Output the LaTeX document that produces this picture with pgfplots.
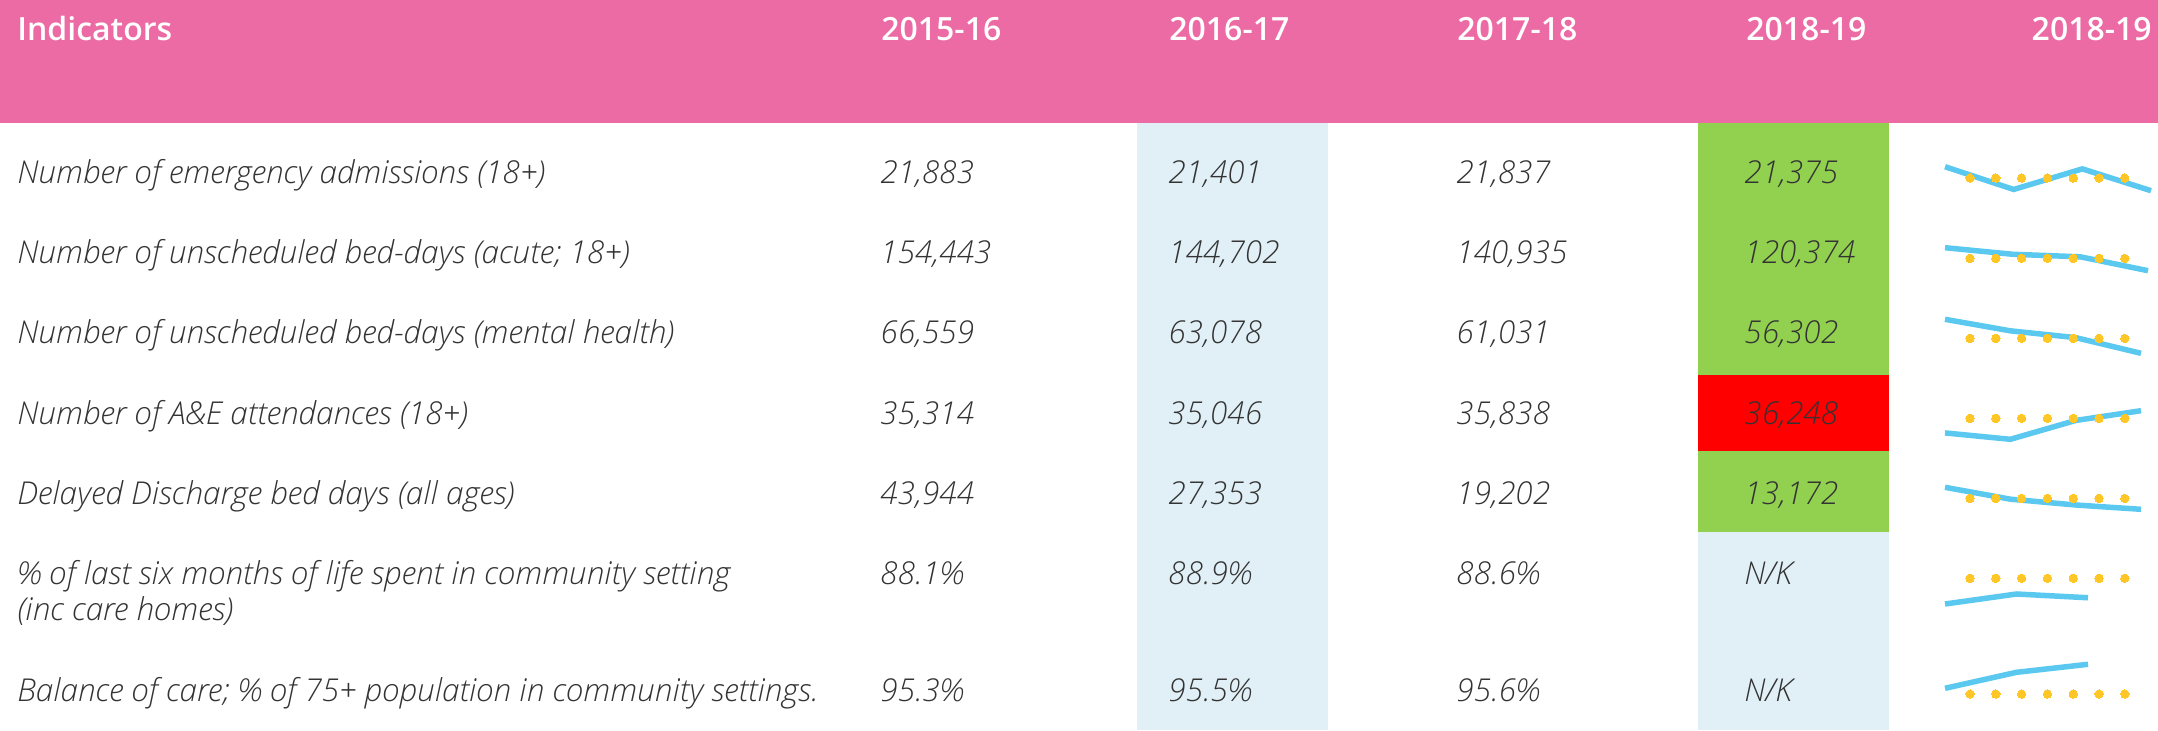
\documentclass[border=0pt]{standalone}
\usepackage{fontspec}
\setmainfont{Open Sans}[ItalicFont={Open Sans Light Italic},BoldFont={Open Sans Semibold}]
\usepackage{pgfplots}
\pgfplotsset{compat=1.18}
\definecolor{pinkhdr}{HTML}{EC6BA4}
\definecolor{lblue}{HTML}{E1F0F6}
\definecolor{cgreen}{HTML}{92D050}
\definecolor{cred}{HTML}{FF0000}
\definecolor{txt}{HTML}{333333}
\definecolor{sline}{HTML}{5BC8EF}
\definecolor{sdot}{HTML}{FFC628}
\newcommand\bodyfont{\fontsize{15.75}{18}\selectfont\itshape}
\newcommand\hdrfont{\fontsize{16}{19}\selectfont\bfseries}
\pgfplotsset{spark/.style={scale only axis, hide axis, clip=false, anchor=north west, xmin=0, enlargelimits=false},
  sl/.style={sline, line width=2.75pt},
  sd/.style={only marks, color=sdot, mark=*, mark size=2.1pt, mark options={solid, draw=sdot, fill=sdot, line width=0pt}}}
\begin{document}
\begin{tikzpicture}
\begin{axis}[name=main, scale only axis, width=1079pt, height=365pt, xmin=0, xmax=2158, ymin=0, ymax=730,
  y dir=reverse, hide axis, clip=false, enlargelimits=false]
\path (axis cs:0,0) rectangle (axis cs:2158,730);
\fill[pinkhdr] (axis cs:0,0) rectangle (axis cs:2158,123);
\fill[lblue] (axis cs:1137,123) rectangle (axis cs:1328,730);
\fill[cgreen] (axis cs:1698,123) rectangle (axis cs:1889,375);
\fill[cred] (axis cs:1698,375) rectangle (axis cs:1889,451);
\fill[cgreen] (axis cs:1698,451) rectangle (axis cs:1889,531.5);
\fill[lblue] (axis cs:1698,531.5) rectangle (axis cs:1889,730);
% header
\node[anchor=base west, inner sep=0pt, font=\hdrfont, text=white] at (axis cs:17,40) {Indicators};
\node[anchor=base west, inner sep=0pt, font=\hdrfont, text=white] at (axis cs:881,40) {2015-16};
\node[anchor=base west, inner sep=0pt, font=\hdrfont, text=white] at (axis cs:1169,40) {2016-17};
\node[anchor=base west, inner sep=0pt, font=\hdrfont, text=white] at (axis cs:1457,40) {2017-18};
\node[anchor=base west, inner sep=0pt, font=\hdrfont, text=white] at (axis cs:1746,40) {2018-19};
\node[anchor=base east, inner sep=0pt, font=\hdrfont, text=white] at (axis cs:2152,40) {2018-19};
% rows
\begin{scope}[every node/.style={anchor=base west, inner sep=0pt, font=\bodyfont, text=txt}]
\node at (axis cs:17,183.5) {Number of emergency admissions (18+)};
\node at (axis cs:880,183.5) {21,883};
\node at (axis cs:1168,183.5) {21,401};
\node at (axis cs:1456,183.5) {21,837};
\node at (axis cs:1744,183.5) {21,375};
\node at (axis cs:17,263.5) {Number of unscheduled bed-days (acute; 18+)};
\node at (axis cs:880,263.5) {154,443};
\node at (axis cs:1168,263.5) {144,702};
\node at (axis cs:1456,263.5) {140,935};
\node at (axis cs:1744,263.5) {120,374};
\node at (axis cs:17,343.5) {Number of unscheduled bed-days (mental health)};
\node at (axis cs:880,343.5) {66,559};
\node at (axis cs:1168,343.5) {63,078};
\node at (axis cs:1456,343.5) {61,031};
\node at (axis cs:1744,343.5) {56,302};
\node at (axis cs:17,424) {Number of A\&E attendances (18+)};
\node at (axis cs:880,424) {35,314};
\node at (axis cs:1168,424) {35,046};
\node at (axis cs:1456,424) {35,838};
\node at (axis cs:1744,424) {36,248};
\node at (axis cs:17,504) {Delayed Discharge bed days (all ages)};
\node at (axis cs:880,504) {43,944};
\node at (axis cs:1168,504) {27,353};
\node at (axis cs:1456,504) {19,202};
\node at (axis cs:1744,504) {13,172};
\node at (axis cs:17,584) {\% of last six months of life spent in community setting};
\node at (axis cs:17,620) {(inc care homes)};
\node at (axis cs:880,584) {88.1\%};
\node at (axis cs:1168,584) {88.9\%};
\node at (axis cs:1456,584) {88.6\%};
\node at (axis cs:1744,584) {N/K};
\node at (axis cs:17,701.7) {Balance of care; \% of 75+ population in community settings.};
\node at (axis cs:880,701.7) {95.3\%};
\node at (axis cs:1168,701.7) {95.5\%};
\node at (axis cs:1456,701.7) {95.6\%};
\node at (axis cs:1744,701.7) {N/K};
\end{scope}
\coordinate (sp1) at (axis cs:1945,166.7);
\coordinate (sp2) at (axis cs:1945,247.7);
\coordinate (sp3) at (axis cs:1945,319.3);
\coordinate (sp4) at (axis cs:1945,410.7);
\coordinate (sp5) at (axis cs:1945,487.3);
\coordinate (sp6) at (axis cs:1945,594);
\coordinate (sp7) at (axis cs:1937.85,652.3);
\end{axis}
% sparkline 1
\begin{axis}[spark, at={(sp1)}, xmax=3, ymin=21375, ymax=21883, width=103pt, height=12pt]
\addplot[sl] coordinates {(0,21883)(1,21401)(2,21837)(3,21375)};
\addplot[sd] coordinates {(0.364,21644)(0.740,21644)(1.115,21644)(1.491,21644)(1.867,21644)(2.243,21644)(2.618,21644)};
\end{axis}
% sparkline 2
\begin{axis}[spark, at={(sp2)}, xmax=3, ymin=120374, ymax=154443, width=101.5pt, height=11.5pt]
\addplot[sl] coordinates {(0,154443)(1,144702)(2,140935)(3,120374)};
\addplot[sd] coordinates {(0.369,138743)(0.751,138743)(1.132,138743)(1.513,138743)(1.894,138743)(2.276,138743)(2.657,138743)};
\end{axis}
% sparkline 3
\begin{axis}[spark, at={(sp3)}, xmax=3, ymin=56302, ymax=66559, width=98pt, height=17pt]
\addplot[sl] coordinates {(0,66559)(1,63078)(2,61031)(3,56302)};
\addplot[sd] coordinates {(0.383,60827)(0.778,60827)(1.173,60827)(1.567,60827)(1.962,60827)(2.357,60827)(2.752,60827)};
\end{axis}
% sparkline 4
\begin{axis}[spark, at={(sp4)}, xmax=3, ymin=35046, ymax=36248, width=98pt, height=14.3pt]
\addplot[sl] coordinates {(0,35314)(1,35046)(2,35838)(3,36248)};
\addplot[sd] coordinates {(0.383,35929)(0.778,35929)(1.173,35929)(1.567,35929)(1.962,35929)(2.357,35929)(2.752,35929)};
\end{axis}
% sparkline 5
\begin{axis}[spark, at={(sp5)}, xmax=3, ymin=13172, ymax=43944, width=98pt, height=11pt]
\addplot[sl] coordinates {(0,43944)(1,27353)(2,19202)(3,13172)};
\addplot[sd] coordinates {(0.383,28558)(0.778,28558)(1.173,28558)(1.567,28558)(1.962,28558)(2.357,28558)(2.752,28558)};
\end{axis}
% sparkline 6
\begin{axis}[spark, at={(sp6)}, xmax=2, ymin=88.1, ymax=88.9, width=71.5pt, height=5pt]
\addplot[sl] coordinates {(0,88.1)(1,88.9)(2,88.6)};
\addplot[sd] coordinates {(0.350,90.16)(0.711,90.16)(1.071,90.16)(1.432,90.16)(1.793,90.16)(2.154,90.16)(2.515,90.16)};
\end{axis}
% sparkline 7 (dots clipped at the bottom)
\begin{axis}[spark, at={(sp7)}, clip=true, xmin=-0.1, xmax=2.7, ymin=95.195, ymax=95.75, width=100.1pt, height=22.2pt]
\addplot[sl] coordinates {(0,95.3)(1,95.5)(2,95.6)};
\addplot[sd] coordinates {(0.350,95.229)(0.711,95.229)(1.071,95.229)(1.432,95.229)(1.793,95.229)(2.154,95.229)(2.515,95.229)};
\end{axis}
\end{tikzpicture}
\end{document}
